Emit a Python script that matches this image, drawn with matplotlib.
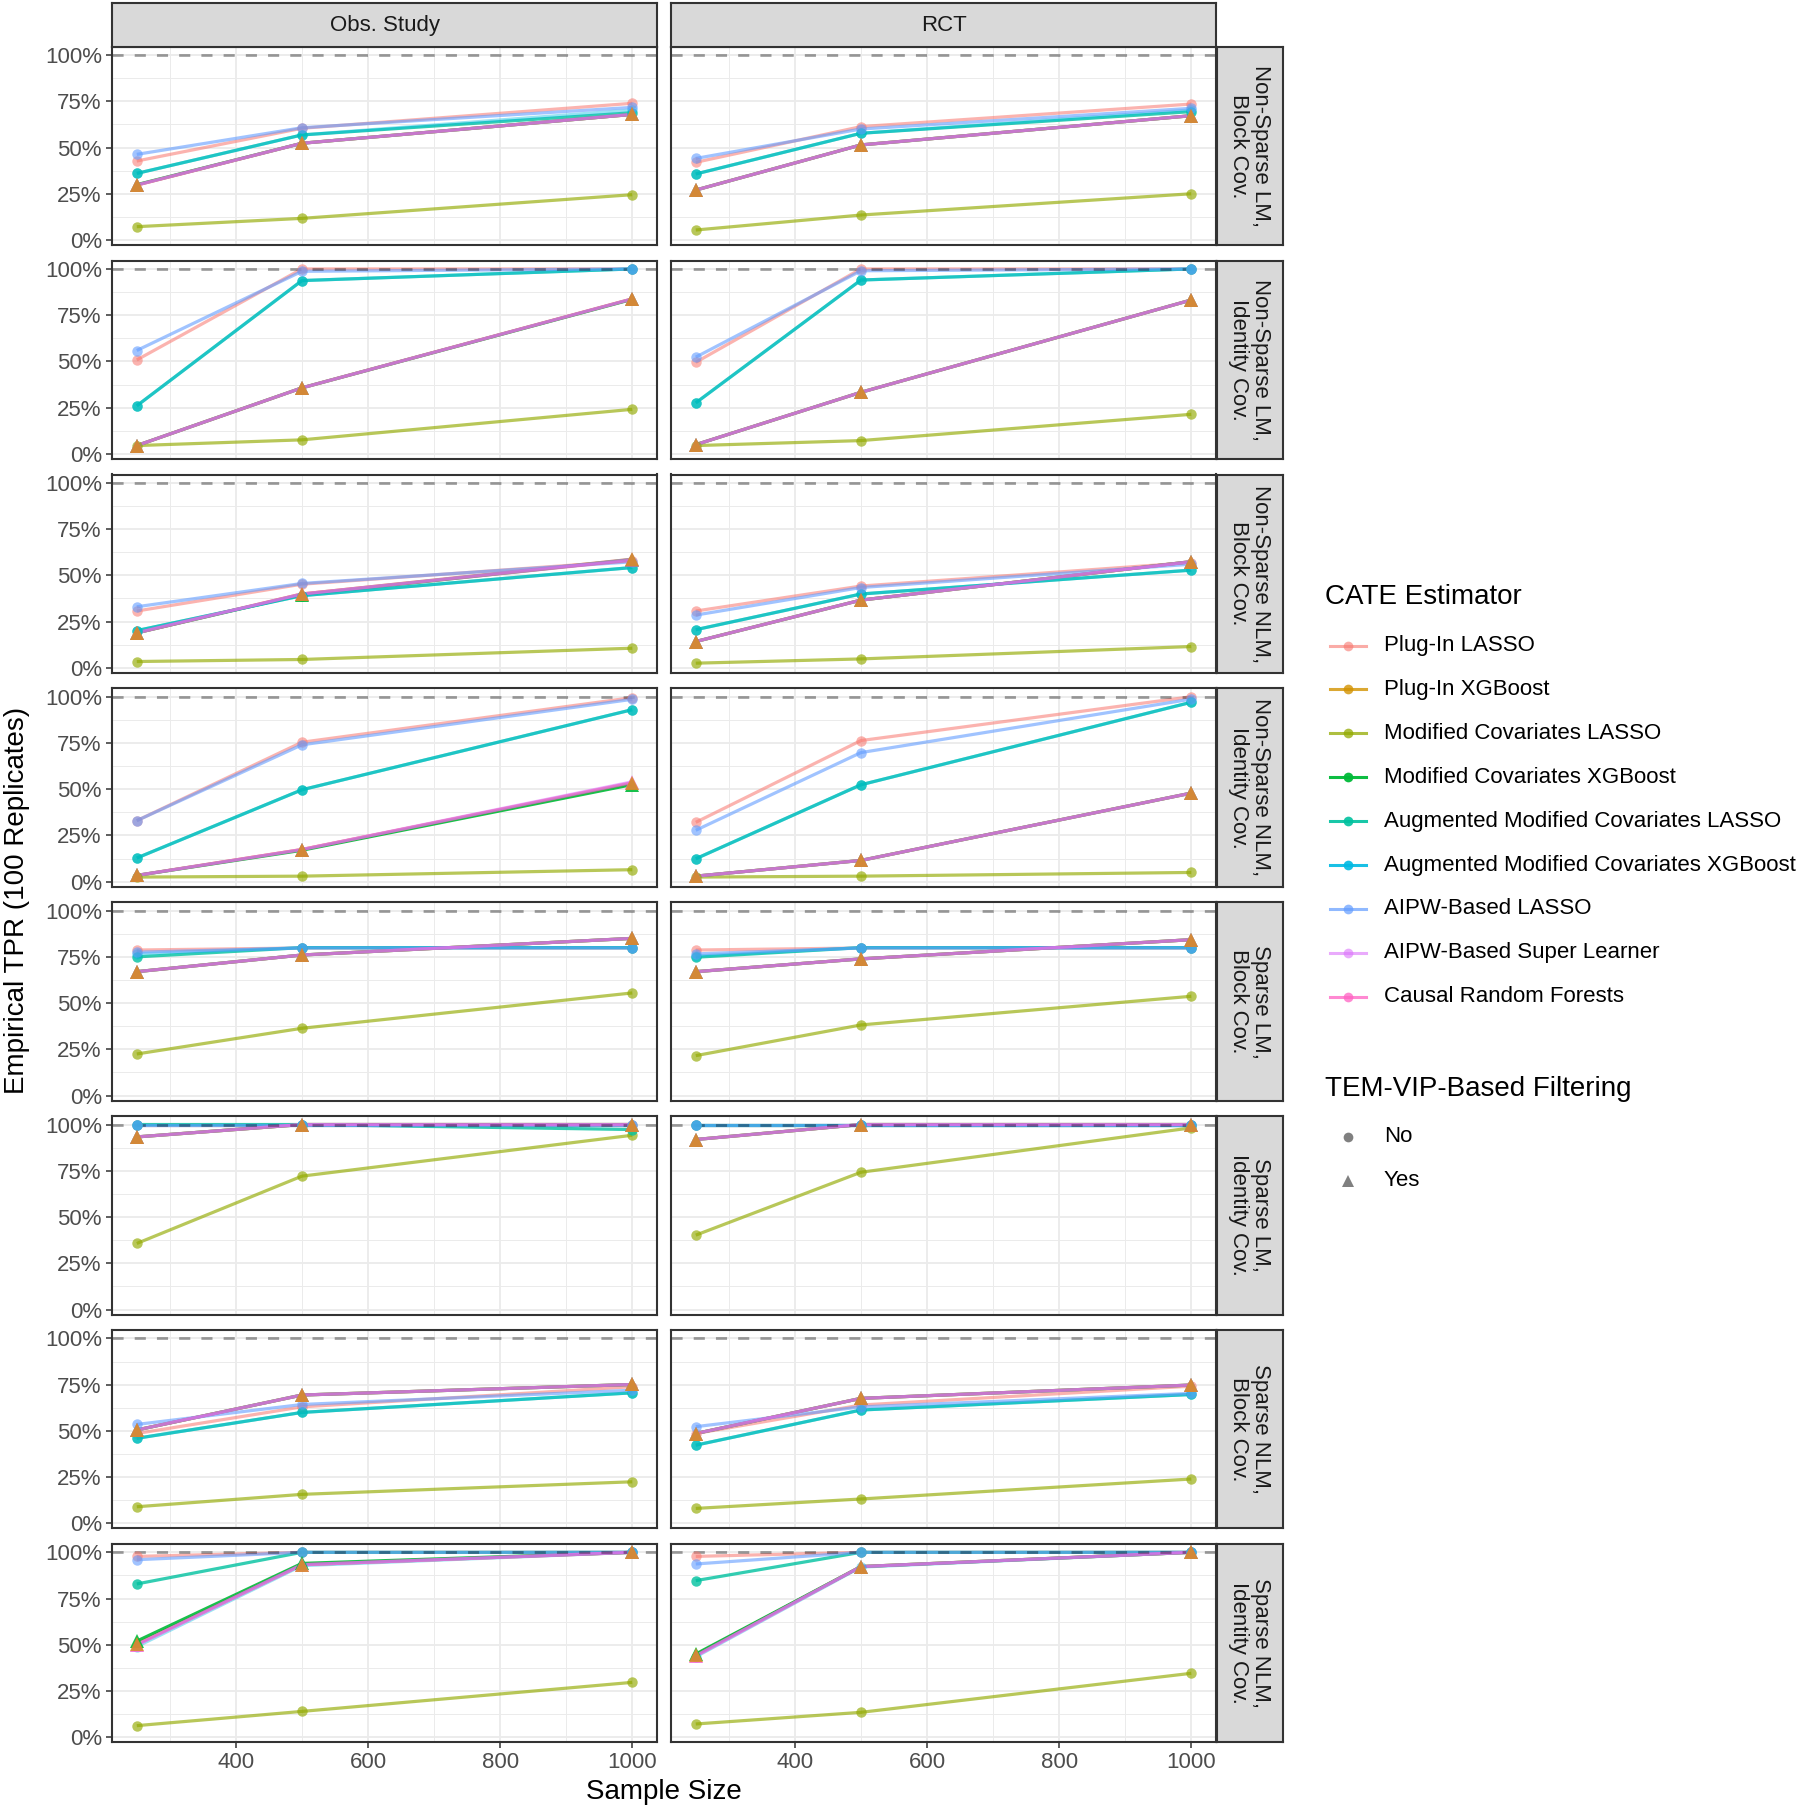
import matplotlib
matplotlib.use("Agg")
import matplotlib.pyplot as plt
from matplotlib.lines import Line2D

plt.rcParams['font.family'] = ['Liberation Sans', 'DejaVu Sans']

# ---------------- data ----------------
sample_sizes = [250, 500, 1000]
designs = ["Obs. Study", "RCT"]
scenarios = [
    "Non-Sparse LM,\nBlock Cov.",
    "Non-Sparse LM,\nIdentity Cov.",
    "Non-Sparse NLM,\nBlock Cov.",
    "Non-Sparse NLM,\nIdentity Cov.",
    "Sparse LM,\nBlock Cov.",
    "Sparse LM,\nIdentity Cov.",
    "Sparse NLM,\nBlock Cov.",
    "Sparse NLM,\nIdentity Cov.",
]
estimators = [
    "Plug-In LASSO",
    "Plug-In XGBoost",
    "Modified Covariates LASSO",
    "Modified Covariates XGBoost",
    "Augmented Modified Covariates LASSO",
    "Augmented Modified Covariates XGBoost",
    "AIPW-Based LASSO",
    "AIPW-Based Super Learner",
    "Causal Random Forests",
]
filtering = ["No", "Yes", "No", "Yes", "No", "No", "No", "Yes", "Yes"]
filter_levels = ["No", "Yes"]

# TPR (%) per scenario: [Obs. Study values, RCT values] at sample sizes 250/500/1000
tpr_plugin_lasso = [
    [[42.7, 60.4, 73.9], [42.0, 61.3, 73.5]],
    [[50.8, 100, 100], [49.5, 100, 100]],
    [[30.7, 45.2, 57.8], [30.7, 44.2, 56.9]],
    [[33.0, 75.4, 99.5], [32.1, 76.3, 100]],
    [[78.7, 79.8, 79.8], [78.7, 79.8, 79.8]],
    [[100, 100, 100], [100, 100, 100]],
    [[48.6, 63.0, 73.9], [48.6, 64.0, 74.2]],
    [[97.8, 100, 100], [97.8, 100, 100]],
]
tpr_plugin_xgb = [
    [[29.7, 52.3, 67.9], [27.0, 51.4, 67.2]],
    [[4.5, 35.7, 83.8], [5.0, 33.3, 83.2]],
    [[18.9, 39.9, 58.7], [14.2, 36.6, 57.4]],
    [[3.4, 17.4, 53.3], [3.0, 11.5, 47.9]],
    [[67.0, 76.0, 85.0], [67.0, 73.9, 84.3]],
    [[93.3, 100, 100], [91.9, 100, 100]],
    [[50.5, 69.4, 75.1], [48.6, 67.6, 74.8]],
    [[50.5, 93.3, 100], [44.5, 92.3, 100]],
]
tpr_modcov_lasso = [
    [[7.2, 11.7, 24.5], [5.4, 13.5, 25.0]],
    [[4.5, 7.6, 24.1], [4.5, 7.2, 21.4]],
    [[3.4, 4.5, 10.6], [2.5, 4.8, 11.5]],
    [[2.5, 3.0, 6.5], [2.5, 3.0, 5.0]],
    [[22.5, 36.4, 55.5], [21.6, 38.2, 53.7]],
    [[35.7, 72.1, 94.2], [40.2, 74.2, 98.2]],
    [[9.0, 15.7, 22.5], [8.1, 13.2, 24.0]],
    [[6.3, 14.0, 29.7], [7.2, 13.5, 34.6]],
]
tpr_modcov_xgb = [
    [[29.9, 52.3, 67.9], [27.0, 51.4, 67.2]],
    [[4.5, 35.7, 83.6], [5.0, 33.3, 83.2]],
    [[18.9, 39.6, 58.5], [14.2, 36.6, 57.4]],
    [[3.4, 17.0, 52.5], [3.0, 11.5, 47.9]],
    [[67.0, 76.0, 85.0], [67.0, 73.9, 84.3]],
    [[93.3, 100, 100], [91.9, 100, 100]],
    [[50.5, 69.4, 75.1], [48.6, 67.6, 74.8]],
    [[52.0, 94.0, 100], [45.0, 92.3, 100]],
]
tpr_aug_modcov_lasso = [
    [[36.0, 56.8, 68.8], [35.7, 57.7, 69.4]],
    [[26.0, 93.7, 100], [27.6, 94.0, 100]],
    [[20.1, 39.0, 54.2], [20.6, 39.9, 52.8]],
    [[12.8, 49.7, 93.0], [12.4, 52.4, 97.0]],
    [[75.0, 80.0, 80.0], [74.8, 80.0, 80.0]],
    [[100, 100, 97.3], [100, 100, 100]],
    [[46.0, 60.0, 70.6], [42.3, 61.3, 69.7]],
    [[82.9, 100, 100], [84.7, 100, 100]],
]
tpr_aug_modcov_xgb = [
    [[36.0, 56.8, 70.3], [35.7, 57.7, 70.3]],
    [[26.0, 93.7, 100], [27.6, 94.0, 100]],
    [[20.1, 39.0, 54.2], [20.6, 39.9, 52.8]],
    [[12.8, 49.7, 93.0], [12.4, 52.4, 97.0]],
    [[76.6, 80.0, 80.0], [75.5, 80.0, 80.0]],
    [[100, 100, 100], [100, 100, 100]],
    [[46.0, 60.0, 70.6], [42.3, 61.3, 69.7]],
    [[49.0, 92.8, 100], [43.5, 92.0, 100]],
]
tpr_aipw_lasso = [
    [[46.3, 60.7, 71.7], [44.1, 60.0, 71.2]],
    [[55.9, 98.7, 100], [52.3, 99.0, 100]],
    [[33.0, 45.6, 57.3], [28.5, 43.4, 56.0]],
    [[33.0, 74.0, 98.6], [27.8, 69.8, 98.7]],
    [[77.5, 79.8, 79.8], [76.6, 79.8, 79.8]],
    [[100, 100, 100], [100, 100, 100]],
    [[53.5, 64.3, 72.0], [52.3, 63.0, 70.3]],
    [[96.0, 100, 100], [93.7, 100, 100]],
]
tpr_aipw_sl = [
    [[29.7, 52.3, 67.9], [27.0, 51.4, 67.2]],
    [[4.5, 35.7, 83.8], [5.0, 33.3, 83.2]],
    [[18.9, 39.9, 58.7], [14.2, 36.6, 57.4]],
    [[3.4, 17.4, 54.0], [3.0, 11.5, 47.9]],
    [[67.0, 76.0, 85.0], [67.0, 73.9, 84.3]],
    [[93.3, 100, 100], [91.9, 100, 100]],
    [[50.5, 69.4, 75.1], [48.6, 67.6, 74.8]],
    [[50.0, 93.3, 100], [44.0, 92.3, 100]],
]
tpr_crf = [
    [[29.7, 52.3, 67.9], [27.0, 51.4, 67.2]],
    [[4.5, 35.7, 83.8], [5.0, 33.3, 83.2]],
    [[18.9, 39.9, 58.2], [14.2, 36.6, 57.4]],
    [[3.4, 17.4, 53.6], [3.0, 11.5, 47.9]],
    [[67.0, 76.0, 85.0], [67.0, 73.9, 84.3]],
    [[93.3, 100, 100], [91.9, 100, 100]],
    [[50.5, 69.4, 75.1], [48.6, 67.6, 74.8]],
    [[50.0, 93.3, 100], [44.0, 92.3, 100]],
]
tpr_by_estimator = [tpr_plugin_lasso, tpr_plugin_xgb, tpr_modcov_lasso, tpr_modcov_xgb,
                    tpr_aug_modcov_lasso, tpr_aug_modcov_xgb, tpr_aipw_lasso,
                    tpr_aipw_sl, tpr_crf]

y_ticks = [0, 25, 50, 75, 100]
y_tick_labels = ["0%", "25%", "50%", "75%", "100%"]
x_ticks = [400, 600, 800, 1000]
x_tick_labels = ["400", "600", "800", "1000"]

# ---------------- style ----------------
palette = ["#F8766D", "#D39200", "#93AA00", "#00BA38", "#00C19F",
           "#00B9E3", "#619CFF", "#DB72FB", "#FF61C3"]
alphas = [0.55, 0.7, 0.65, 0.9, 0.8, 0.4, 0.6, 0.55, 0.65]
legend_alphas = [0.6, 0.8, 0.75, 0.95, 0.9, 0.9, 0.7, 0.6, 0.75]
marker_of = {"No": "o", "Yes": "^"}
line_order = [0, 1, 2, 3, 4, 5, 6, 8, 7]
point_order = [0, 2, 4, 5, 6, 3, 7, 8, 1]

W, H = 1801, 1809
fig = plt.figure(figsize=(W / 100, H / 100), dpi=100)
fig.patch.set_facecolor("white")


def px_axes(x0, y0, w, h, **kw):
    return fig.add_axes([x0 / W, 1 - (y0 + h) / H, w / W, h / H], **kw)


col_x = [112, 671]
col_w = 545
row_top0 = 46.7
row_step = 213.9
row_h = 198.3
border_col = "#333333"

for r, scen in enumerate(scenarios):
    top = row_top0 + r * row_step
    for c, des in enumerate(designs):
        ax = px_axes(col_x[c], top, col_w, row_h)
        ax.set_xlim(212.5, 1037.5)
        ax.set_ylim(-2.7, 104.5)
        ax.set_xticks(x_ticks)
        ax.set_xticks([300, 500, 700, 900], minor=True)
        ax.set_yticks(y_ticks)
        ax.set_yticks([12.5, 37.5, 62.5, 87.5], minor=True)
        ax.grid(which="major", color="#EBEBEB", lw=1.3)
        ax.grid(which="minor", color="#EBEBEB", lw=0.7)
        ax.set_axisbelow(True)
        for sp in ax.spines.values():
            sp.set_color(border_col)
            sp.set_linewidth(1.5)
            sp.set_zorder(10)
        ax.tick_params(which="minor", length=0)
        ax.tick_params(axis="both", which="major", length=4.3, width=1.1,
                       color=border_col, labelsize=16, labelcolor="#4D4D4D", pad=3)
        if c == 0:
            ax.set_yticklabels(y_tick_labels)
        else:
            ax.tick_params(axis="y", left=False, labelleft=False)
        if r == len(scenarios) - 1:
            ax.set_xticklabels(x_tick_labels)
        else:
            ax.tick_params(axis="x", bottom=False, labelbottom=False)

        # lines
        for i in line_order:
            vals = tpr_by_estimator[i][r][c]
            ax.plot(sample_sizes, vals, color=palette[i], alpha=alphas[i], lw=2.3,
                    solid_capstyle="butt", zorder=2)
        ax.axhline(100, color="black", alpha=0.37, lw=2.0, ls=(0, (4, 4)), zorder=2.5)
        # points
        for i in point_order:
            vals = tpr_by_estimator[i][r][c]
            mk = marker_of[filtering[i]]
            ax.plot(sample_sizes, vals, ls="none", marker=mk,
                    markersize=7.5 if mk == "o" else 10,
                    markeredgewidth=0, color=palette[i], alpha=alphas[i], zorder=3)

        # top strips
        if r == 0:
            sax = px_axes(col_x[c], 3.5, col_w, 43.2)
            sax.set_xticks([]); sax.set_yticks([])
            sax.set_facecolor("#D9D9D9")
            for sp in sax.spines.values():
                sp.set_color(border_col); sp.set_linewidth(1.5)
            sax.text(0.5, 0.5, des, ha="center", va="center", fontsize=16,
                     color="#1A1A1A", transform=sax.transAxes)

    # right strip
    rax = px_axes(col_x[1] + col_w + 0.5, top, 66, row_h)
    rax.set_xticks([]); rax.set_yticks([])
    rax.set_facecolor("#D9D9D9")
    for sp in rax.spines.values():
        sp.set_color(border_col); sp.set_linewidth(1.5)
    rax.text(0.5, 0.5, scen, ha="center", va="center", rotation=270,
             multialignment="center", linespacing=1.05, fontsize=16,
             color="#1A1A1A", transform=rax.transAxes)

# axis titles
fig.text(17 / W, 1 - 900 / H, "Empirical TPR (100 Replicates)", rotation=90,
         ha="center", va="center", fontsize=20, color="black")
fig.text(664 / W, 1 - 1792 / H, "Sample Size", ha="center", va="center",
         fontsize=20, color="black")

# legend (drawn on an overlay in pixel space)
lax = fig.add_axes([0, 0, 1, 1])
lax.set_xlim(0, W)
lax.set_ylim(H, 0)
lax.axis("off")
lax.text(1325, 597, "CATE Estimator", ha="left", va="center", fontsize=20, color="black")
for k, name in enumerate(estimators):
    y = 645.5 + k * 43.9
    lax.add_line(Line2D([1330, 1366], [y, y], color=palette[k], alpha=legend_alphas[k], lw=2.2))
    lax.add_line(Line2D([1348], [y], marker="o", markersize=7, markeredgewidth=0,
                        color=palette[k], alpha=legend_alphas[k]))
    lax.text(1384, y, name, ha="left", va="center", fontsize=16, color="black")
lax.text(1325, 1089, "TEM-VIP-Based Filtering", ha="left", va="center",
         fontsize=20, color="black")
for k, lev in enumerate(filter_levels):
    y = 1137 + k * 44
    lax.add_line(Line2D([1348], [y], marker=marker_of[lev],
                        markersize=7 if lev == "No" else 8.5, markeredgewidth=0,
                        color="#808080"))
    lax.text(1384, y, lev, ha="left", va="center", fontsize=16, color="black")

fig.savefig("out.png", dpi=100, facecolor="white")
